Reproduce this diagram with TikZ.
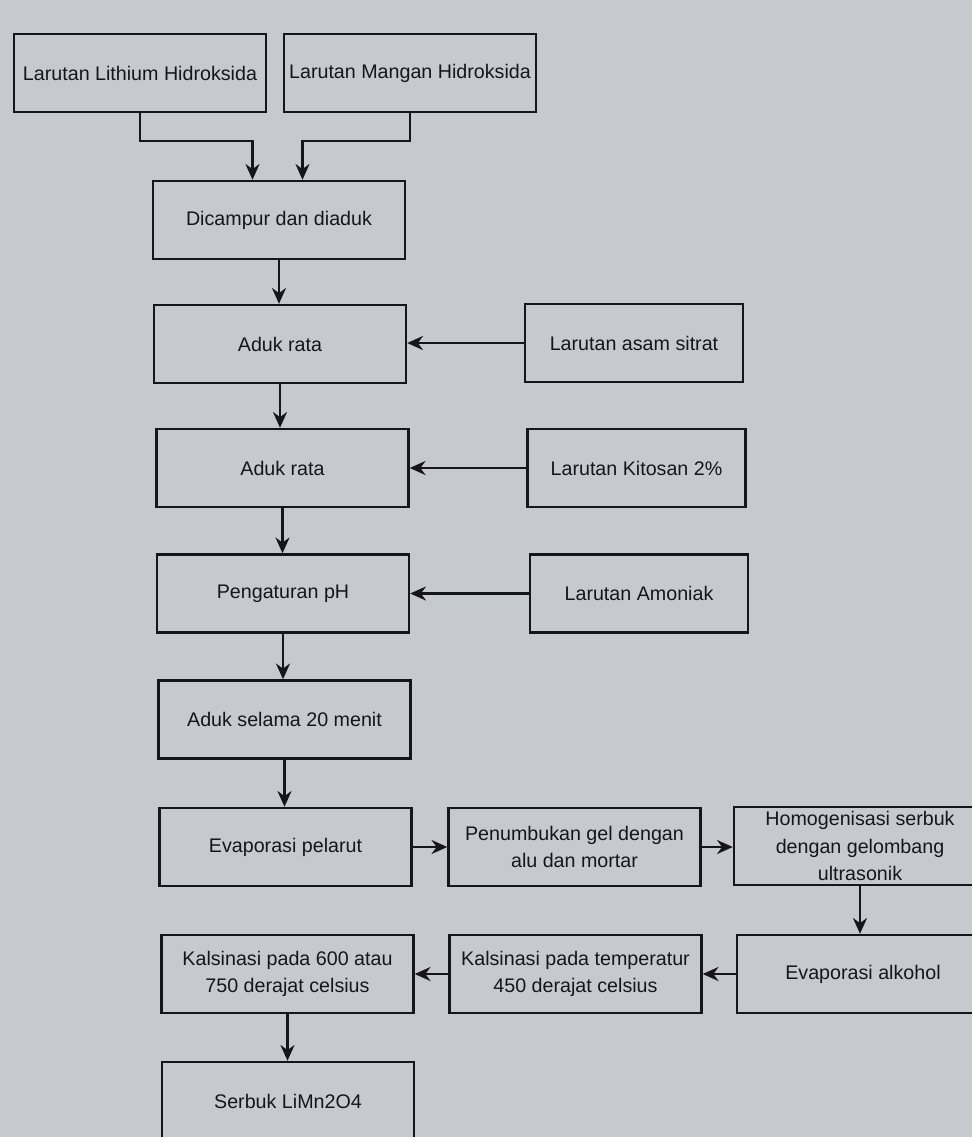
\documentclass[tikz,border=0pt]{standalone}
\usepackage{fontspec}
\setmainfont{Liberation Sans}
\usetikzlibrary{arrows.meta}
\definecolor{paper}{RGB}{198,202,207}
\definecolor{ink}{RGB}{22,22,26}
\begin{document}
\begin{tikzpicture}[x=0.02cm, y=-0.02cm, font=\fontsize{11.2}{15.6}\selectfont, text=ink]
    \tikzstyle{procbox}=[draw=ink, line width=1.4pt, fill=paper, minimum width=5.04cm, minimum height=1.56cm, align=center, inner sep=2pt]
    \tikzstyle{inbox}=[procbox, minimum width=4.36cm]
    \tikzstyle{arr}=[draw=ink, line width=1.3pt, -{Stealth[length=9pt, width=8pt]}]

    \clip (0,0) rectangle (972,1137);
    \fill[paper] (0,0) rectangle (972,1137);

    \node[procbox] (lioh) at (140,73) {Larutan Lithium Hidroksida};
    \node[procbox] (mnoh) at (410,73) {Larutan Mangan Hidroksida};

    \node[procbox] (mix) at (279,220) {Dicampur dan diaduk};

    \node[procbox] (rata1) at (280,344) {Aduk rata};
    \node[inbox] (sitrat) at (634,343) {Larutan asam sitrat};

    \node[procbox] (rata2) at (282.5,468) {Aduk rata};
    \node[inbox] (kitosan) at (636.5,468) {Larutan Kitosan 2\%};

    \node[procbox] (ph) at (283,593.5) {Pengaturan pH};
    \node[inbox] (amoniak) at (639,593.5) {Larutan Amoniak};

    \node[procbox] (aduk) at (284.5,719.5) {Aduk selama 20 menit};

    \node[procbox] (evap) at (285.5,847) {Evaporasi pelarut};
    \node[procbox] (tumbuk) at (574.5,847) {Penumbukan gel dengan\\alu dan mortar};
    \node[procbox] (homog) at (860,846) {Homogenisasi serbuk\\dengan gelombang\\ultrasonik};

    \node[procbox] (kal2) at (287.5,974) {Kalsinasi pada 600 atau\\750 derajat celsius};
    \node[procbox] (kal1) at (575.5,974) {Kalsinasi pada temperatur\\450 derajat celsius};
    \node[procbox] (evalk) at (863,974) {Evaporasi alkohol};

    \node[procbox] (serbuk) at (288,1101) {Serbuk LiMn2O4};

    \draw[arr] (lioh.south) -- ++(0,28) -| ([xshift=-0.53cm]mix.north);
    \draw[arr] (mnoh.south) -- ++(0,28) -| ([xshift=0.47cm]mix.north);
    \draw[arr] (mix.south) -- (mix.south |- rata1.north);
    \draw[arr] (sitrat.west) -- (sitrat.west -| rata1.east);
    \draw[arr] (rata1.south) -- (rata1.south |- rata2.north);
    \draw[arr] (kitosan.west) -- (kitosan.west -| rata2.east);
    \draw[arr] (rata2.south) -- (rata2.south |- ph.north);
    \draw[arr] (amoniak.west) -- (amoniak.west -| ph.east);
    \draw[arr] (ph.south) -- (ph.south |- aduk.north);
    \draw[arr] (aduk.south) -- (aduk.south |- evap.north);
    \draw[arr] (evap.east) -- (evap.east -| tumbuk.west);
    \draw[arr] (tumbuk.east) -- (tumbuk.east -| homog.west);
    \draw[arr] (homog.south) -- (homog.south |- evalk.north);
    \draw[arr] (evalk.west) -- (evalk.west -| kal1.east);
    \draw[arr] (kal1.west) -- (kal1.west -| kal2.east);
    \draw[arr] (kal2.south) -- (kal2.south |- serbuk.north);
  \end{tikzpicture}
\end{document}
